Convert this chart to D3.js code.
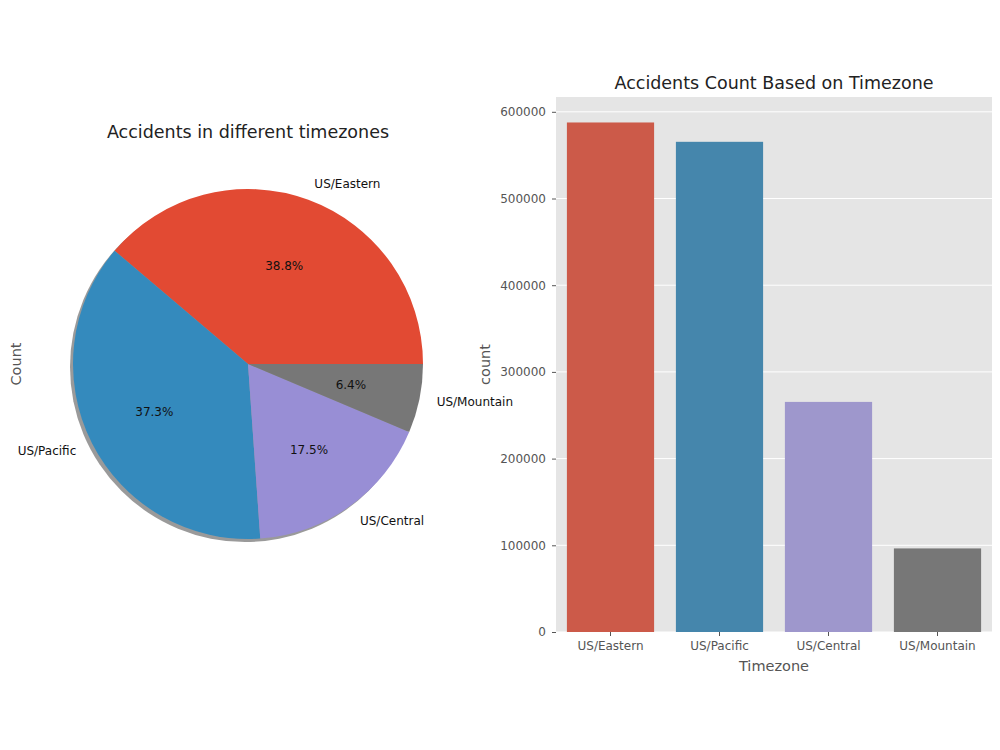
<!DOCTYPE html>
<html>
<head>
<meta charset="utf-8">
<script src="https://cdn.jsdelivr.net/npm/d3@7"></script>
<style>
  body { margin: 0; background: #fff; }
  svg { display: block; font-family: "DejaVu Sans", sans-serif; }
</style>
</head>
<body>
<svg id="chart" width="1000" height="750"></svg>
<script>
// data
const zones = ['US/Eastern', 'US/Pacific', 'US/Central', 'US/Mountain'];
const counts = [587700, 565400, 265400, 96400];
const yTicks = [0, 100000, 200000, 300000, 400000, 500000, 600000];
const pieColors = ['#E24A33', '#348ABD', '#988ED5', '#777777'];
const barColors = ['#CC5A49', '#4586AC', '#9E97CC', '#777777'];

const svg = d3.select('#chart');

// ---- pie (left) ----
const cx = 248, cy = 364, R = 175;
const total = d3.sum(counts);
const pie = d3.pie().sort(null).value(d => d)
    // matplotlib: start at 3 o'clock, go counter-clockwise
    .startAngle(Math.PI / 2).endAngle(Math.PI / 2 - 2 * Math.PI);
const arcs = pie(counts);
const arc = d3.arc().innerRadius(0).outerRadius(R);

svg.append('text')
    .attr('x', cx).attr('y', 138)
    .attr('text-anchor', 'middle')
    .attr('font-size', 17.5).attr('fill', '#222')
    .text('Accidents in different timezones');

const pg = svg.append('g').attr('transform', `translate(${cx},${cy})`);

// shadow
pg.append('circle')
    .attr('cx', -3).attr('cy', 3).attr('r', R)
    .attr('fill', '#9a9a9a');

pg.selectAll('path.slice')
    .data(arcs)
    .enter().append('path')
    .attr('class', 'slice')
    .attr('d', arc)
    .attr('fill', (d, i) => pieColors[i]);

function midAngle(d){ return (d.startAngle + d.endAngle) / 2; }
// d3 angles: 0 at 12 o'clock, clockwise -> x = sin, y = -cos
pg.selectAll('text.lab')
    .data(arcs)
    .enter().append('text')
    .attr('class', 'lab')
    .attr('x', d => 1.1 * R * Math.sin(midAngle(d)))
    .attr('y', d => -1.1 * R * Math.cos(midAngle(d)))
    .attr('dy', '0.35em')
    .attr('text-anchor', d => Math.sin(midAngle(d)) >= 0 ? 'start' : 'end')
    .attr('font-size', 12).attr('fill', '#111')
    .text((d, i) => zones[i]);

pg.selectAll('text.pct')
    .data(arcs)
    .enter().append('text')
    .attr('class', 'pct')
    .attr('x', d => 0.6 * R * Math.sin(midAngle(d)))
    .attr('y', d => -0.6 * R * Math.cos(midAngle(d)))
    .attr('dy', '0.35em')
    .attr('text-anchor', 'middle')
    .attr('font-size', 12).attr('fill', '#111')
    .text(d => (d.value / total * 100).toFixed(1) + '%');

svg.append('text')
    .attr('transform', `translate(21,${cy}) rotate(-90)`)
    .attr('text-anchor', 'middle')
    .attr('font-size', 14.5).attr('fill', '#555')
    .text('Count');

// ---- bar chart (right) ----
const bx0 = 556, bx1 = 992, by0 = 97, by1 = 632;
const x = d3.scaleBand().domain(zones).range([bx0, bx1]).paddingInner(0.2).paddingOuter(0.1);
const y = d3.scaleLinear().domain([0, d3.max(counts) * 1.05]).range([by1, by0]);

svg.append('rect')
    .attr('x', bx0).attr('y', by0)
    .attr('width', bx1 - bx0).attr('height', by1 - by0)
    .attr('fill', '#E5E5E5');

svg.append('g')
    .selectAll('line')
    .data(yTicks)
    .enter().append('line')
    .attr('x1', bx0).attr('x2', bx1)
    .attr('y1', d => y(d)).attr('y2', d => y(d))
    .attr('stroke', '#fff').attr('stroke-width', 1);

svg.append('g')
    .selectAll('rect')
    .data(counts)
    .enter().append('rect')
    .attr('x', (d, i) => x(zones[i]))
    .attr('width', x.bandwidth())
    .attr('y', d => y(d))
    .attr('height', d => by1 - y(d))
    .attr('fill', (d, i) => barColors[i]);

const yAxis = svg.append('g')
    .attr('transform', `translate(${bx0},0)`)
    .call(d3.axisLeft(y).tickValues(yTicks).tickFormat(d3.format('d')).tickSize(4).tickPadding(6));
yAxis.select('.domain').remove();
yAxis.selectAll('line').attr('stroke', '#555');
yAxis.selectAll('text').attr('fill', '#555').attr('font-size', 12).attr('font-family', 'DejaVu Sans');

const xAxis = svg.append('g')
    .attr('transform', `translate(0,${by1})`)
    .call(d3.axisBottom(x).tickSize(4).tickPadding(5));
xAxis.select('.domain').remove();
xAxis.selectAll('line').attr('stroke', '#555');
xAxis.selectAll('text').attr('fill', '#555').attr('font-size', 12).attr('font-family', 'DejaVu Sans');

svg.append('text')
    .attr('x', (bx0 + bx1) / 2).attr('y', 671)
    .attr('text-anchor', 'middle')
    .attr('font-size', 14.5).attr('fill', '#555')
    .text('Timezone');

svg.append('text')
    .attr('transform', `translate(490,${(by0 + by1) / 2}) rotate(-90)`)
    .attr('text-anchor', 'middle')
    .attr('font-size', 14.5).attr('fill', '#555')
    .text('count');

svg.append('text')
    .attr('x', (bx0 + bx1) / 2).attr('y', 89)
    .attr('text-anchor', 'middle')
    .attr('font-size', 17.5).attr('fill', '#222')
    .text('Accidents Count Based on Timezone');
</script>
</body>
</html>
